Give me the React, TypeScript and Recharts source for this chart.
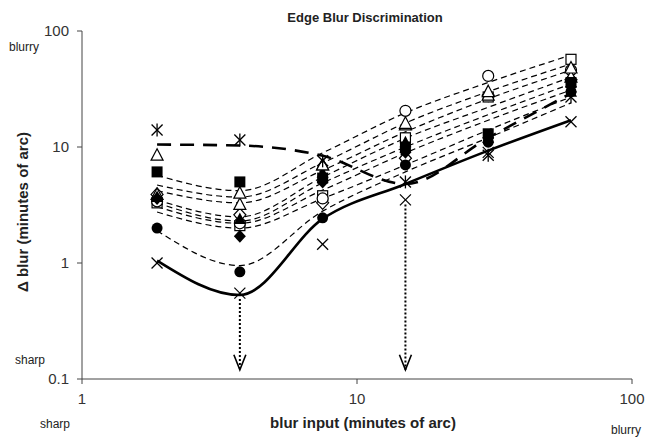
import React from "react";
import { ComposedChart, Line, Scatter, XAxis, YAxis } from "recharts";

const blurInput = [1.875, 3.75, 7.5, 15, 30, 60];
const xTicks = [1, 10, 100];
const yTicks = [0.1, 1, 10, 100];

// fitted curves (thin dashed)
const fitA = [5.7, 4.2, 8.9, 19.7, 36, 62];
const fitB = [4.7, 3.7, 7.3, 16.1, 30, 52];
const fitC = [4.2, 3.3, 6.3, 13.5, 26, 46];
const fitD = [3.5, 2.5, 5.5, 11.9, 22, 40];
const fitE = [3.3, 2.3, 4.9, 10, 19, 35];
const fitF = [3.05, 2.2, 4.25, 8.9, 17, 31];
const fitG = [2.75, 2.0, 3.6, 7.0, 14, 27];
const fitH = [1.9, 0.95, 2.8, 6.1, 12, 24];
// bold dashed fit and bold solid fit
const fitBold = [10.5, 10.3, 8.4, 4.8, 12, 29];
const fitSolid = [1.05, 0.53, 2.4, 4.8, 9.3, 17];

// measured points per observer
const ptAsterisk = [14, 11.5, 7.6, 5.0, 8.5, 27];
const ptCross = [1.0, 0.55, 1.45, 3.5, 9, 16.5];
const ptFilledCircle = [2.0, 0.84, 2.45, 7.0, 11, 30];
const ptOpenCircle = [3.4, 2.2, 3.6, 20.5, 41, 46];
const ptOpenTriangle = [8.5, 4.0, 7.0, 16, 30, 48];
const ptOpenTriangle2 = [3.9, 3.2, 7.0, 15.5, 28, 40];
const ptFilledSquare = [6.1, 5.0, 5.4, 10, 13, 36];
const ptOpenSquare = [3.3, 2.1, 3.8, 12, 27, 57];
const ptFilledDiamond = [3.6, 1.7, 5.0, 9, 12, 33];
const ptOpenDiamond = [3.9, 2.6, 3.3, 8, 28, 38];
const ptFilledTriangle = [3.7, 2.4, 6.0, 11, 12, 30];

// dotted arrows (x, from, to)
const arrowX = [3.75, 15];
const arrowFrom = [0.49, 3.2];
const arrowTo = [0.12, 0.12];

const toData = (vals: number[]) => blurInput.map((x, i) => ({ x, y: vals[i] }));

const thinFits = [fitA, fitB, fitC, fitD, fitE, fitF, fitG, fitH];

type ShapeKind =
  | "asterisk"
  | "cross"
  | "fcircle"
  | "ocircle"
  | "otri"
  | "ftri"
  | "fsquare"
  | "osquare"
  | "fdiamond"
  | "odiamond";

const makeShape = (kind: ShapeKind) => (props: any) => {
  const { cx, cy } = props;
  if (cx == null || cy == null) return <g />;
  const s = 5.5;
  switch (kind) {
    case "asterisk":
      return (
        <g stroke="#000" strokeWidth={1.3}>
          <line x1={cx - s} y1={cy - s} x2={cx + s} y2={cy + s} />
          <line x1={cx - s} y1={cy + s} x2={cx + s} y2={cy - s} />
          <line x1={cx} y1={cy - s - 1} x2={cx} y2={cy + s + 1} />
        </g>
      );
    case "cross":
      return (
        <g stroke="#000" strokeWidth={1.2}>
          <line x1={cx - s} y1={cy - s} x2={cx + s} y2={cy + s} />
          <line x1={cx - s} y1={cy + s} x2={cx + s} y2={cy - s} />
        </g>
      );
    case "fcircle":
      return <circle cx={cx} cy={cy} r={5.5} fill="#000" />;
    case "ocircle":
      return <circle cx={cx} cy={cy} r={5.5} fill="#fff" stroke="#000" strokeWidth={1.2} />;
    case "otri":
      return (
        <path
          d={`M${cx},${cy - 6.5}L${cx + 6},${cy + 5}L${cx - 6},${cy + 5}Z`}
          fill="#fff"
          stroke="#000"
          strokeWidth={1.2}
        />
      );
    case "ftri":
      return <path d={`M${cx},${cy - 6.5}L${cx + 6},${cy + 5}L${cx - 6},${cy + 5}Z`} fill="#000" />;
    case "fsquare":
      return <rect x={cx - 5.5} y={cy - 5.5} width={11} height={11} fill="#000" />;
    case "osquare":
      return (
        <rect x={cx - 5} y={cy - 5} width={10} height={10} fill="#fff" stroke="#000" strokeWidth={1.2} />
      );
    case "fdiamond":
      return <path d={`M${cx},${cy - 6.5}L${cx + 6},${cy}L${cx},${cy + 6.5}L${cx - 6},${cy}Z`} fill="#000" />;
    case "odiamond":
      return (
        <path
          d={`M${cx},${cy - 6.5}L${cx + 6},${cy}L${cx},${cy + 6.5}L${cx - 6},${cy}Z`}
          fill="#fff"
          stroke="#000"
          strokeWidth={1.2}
        />
      );
  }
  return <g />;
};

const pointSets: [number[], ShapeKind][] = [
  [ptOpenDiamond, "odiamond"],
  [ptOpenSquare, "osquare"],
  [ptOpenCircle, "ocircle"],
  [ptOpenTriangle2, "otri"],
  [ptFilledTriangle, "ftri"],
  [ptFilledDiamond, "fdiamond"],
  [ptFilledSquare, "fsquare"],
  [ptOpenTriangle, "otri"],
  [ptFilledCircle, "fcircle"],
  [ptCross, "cross"],
  [ptAsterisk, "asterisk"],
];

const arrowShape = (props: any) => {
  const { cx, cy, payload } = props;
  if (cx == null || cy == null) return <g />;
  if (payload && payload.tip) {
    return (
      <path
        d={`M${cx - 6},${cy - 15}L${cx},${cy}L${cx + 6},${cy - 15}`}
        fill="none"
        stroke="#000"
        strokeWidth={1.6}
      />
    );
  }
  return <g />;
};

const font = "'Liberation Sans', Arial, sans-serif";

export default function App() {
  return (
    <div style={{ position: "absolute", left: 0, top: 0, width: 645, height: 437, background: "#fff" }}>
      <ComposedChart
        width={645}
        height={437}
        margin={{ top: 31, right: 13, bottom: 20, left: 34 }}
        style={{ fontFamily: font }}
      >
        <XAxis
          type="number"
          dataKey="x"
          scale="log"
          domain={[1, 100]}
          ticks={xTicks}
          allowDataOverflow
          height={38}
          stroke="#444"
          tickSize={5}
          tickMargin={9}
          tick={{ fill: "#333", fontSize: 15, fontFamily: font }}
          tickFormatter={(v: number) => String(v)}
        />
        <YAxis
          type="number"
          dataKey="y"
          scale="log"
          domain={[0.1, 100]}
          ticks={yTicks}
          allowDataOverflow
          width={48}
          stroke="#444"
          tickSize={5}
          tickMargin={8}
          tick={{ fill: "#333", fontSize: 15, fontFamily: font }}
          tickFormatter={(v: number) => String(v)}
        />
        {thinFits.map((f, i) => (
          <Line
            key={"fit" + i}
            data={toData(f)}
            dataKey="y"
            type="monotone"
            stroke="#000"
            strokeWidth={1.2}
            strokeDasharray="6 4"
            dot={false}
            activeDot={false}
            isAnimationActive={false}
          />
        ))}
        <Line
          data={toData(fitBold)}
          dataKey="y"
          type="monotone"
          stroke="#000"
          strokeWidth={2.6}
          strokeDasharray="14 9"
          dot={false}
          activeDot={false}
          isAnimationActive={false}
        />
        <Line
          data={toData(fitSolid)}
          dataKey="y"
          type="monotone"
          stroke="#000"
          strokeWidth={2.6}
          dot={false}
          activeDot={false}
          isAnimationActive={false}
        />
        {arrowX.map((ax, i) => (
          <Scatter
            key={"arrow" + i}
            data={[
              { x: ax, y: arrowFrom[i], tip: false },
              { x: ax, y: arrowTo[i], tip: true },
            ]}
            dataKey="y"
            line={{ stroke: "#000", strokeWidth: 2, strokeDasharray: "2 2" }}
            lineType="joint"
            shape={arrowShape}
            isAnimationActive={false}
          />
        ))}
        {pointSets.map(([vals, kind], i) => (
          <Scatter
            key={"pts" + i}
            data={toData(vals)}
            dataKey="y"
            shape={makeShape(kind)}
            isAnimationActive={false}
          />
        ))}
      </ComposedChart>
      <svg
        width={645}
        height={437}
        style={{ position: "absolute", left: 0, top: 0, pointerEvents: "none", fontFamily: font }}
      >
        <text x={365} y={22} textAnchor="middle" fontSize={13} fontWeight="bold" fill="#222">
          Edge Blur Discrimination
        </text>
        <text x={9} y={51} fontSize={12} fill="#222">
          blurry
        </text>
        <text x={15} y={364} fontSize={12} fill="#222">
          sharp
        </text>
        <text x={40} y={428} fontSize={12} fill="#222">
          sharp
        </text>
        <text x={611} y={434} fontSize={12} fill="#222">
          blurry
        </text>
        <text x={363} y={428} textAnchor="middle" fontSize={15} fontWeight="bold" fill="#222">
          blur input (minutes of arc)
        </text>
        <text
          x={0}
          y={0}
          transform="translate(28,212) rotate(-90)"
          textAnchor="middle"
          fontSize={15}
          fontWeight="bold"
          fill="#222"
        >
          Δ blur (minutes of arc)
        </text>
      </svg>
    </div>
  );
}
